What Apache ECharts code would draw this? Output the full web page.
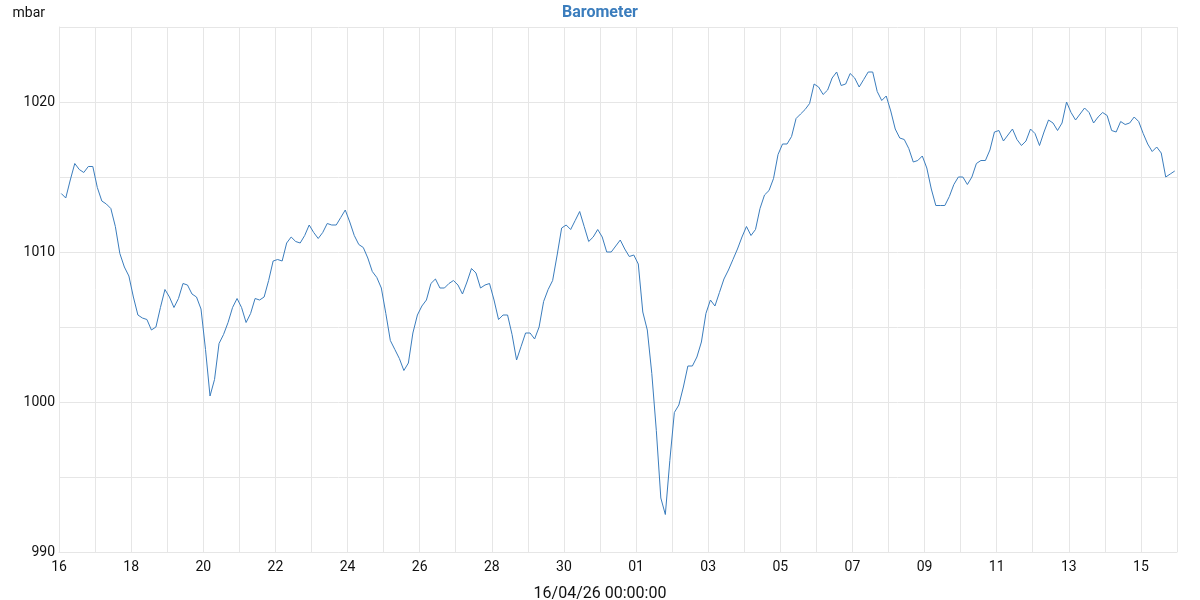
<!DOCTYPE html>
<html>
<head>
<meta charset="utf-8">
<script src="https://cdn.jsdelivr.net/npm/echarts@6/dist/echarts.min.js"></script>
<style>html,body{margin:0;padding:0;background:#fff}#c{width:1200px;height:600px}</style>
</head>
<body>
<div id="c"></div>
<script>
// Data: barometric pressure (mbar), 3-hourly samples from 16 Mar 2026 01:30 UTC
const chartTitle = 'Barometer';
const yUnit = 'mbar';
const xAxisName = '16/04/26 00:00:00';
const axisStart = Date.UTC(2026, 2, 16, 0, 0);
const axisEnd = Date.UTC(2026, 3, 16, 0, 0);
const firstSample = Date.UTC(2026, 2, 16, 1, 30);
const sampleStepHours = 3;
const yMin = 990, yMax = 1025, yStep = 5;
const yLabelStep = 10;
const pressure = [
1013.9,1013.6,1014.8,1015.9,1015.5,1015.3,1015.7,1015.7,1014.3,1013.4,
1013.2,1012.9,1011.7,1009.9,1009.0,1008.4,1007.0,1005.8,1005.6,1005.5,
1004.8,1005.0,1006.3,1007.5,1007.0,1006.3,1006.9,1007.9,1007.8,1007.2,
1007.0,1006.2,1003.5,1000.4,1001.5,1003.9,1004.5,1005.3,1006.3,1006.9,
1006.3,1005.3,1005.9,1006.9,1006.8,1007.0,1008.1,1009.4,1009.5,1009.4,
1010.6,1011.0,1010.7,1010.6,1011.1,1011.8,1011.3,1010.9,1011.3,1011.9,
1011.8,1011.8,1012.3,1012.8,1012.0,1011.1,1010.5,1010.3,1009.6,1008.7,
1008.3,1007.6,1005.9,1004.1,1003.5,1002.9,1002.1,1002.6,1004.6,1005.8,
1006.4,1006.8,1007.9,1008.2,1007.6,1007.6,1007.9,1008.1,1007.8,1007.2,
1008.0,1008.9,1008.6,1007.6,1007.8,1007.9,1006.8,1005.5,1005.8,1005.8,
1004.5,1002.8,1003.7,1004.6,1004.6,1004.2,1005.0,1006.7,1007.5,1008.1,
1009.8,1011.6,1011.8,1011.5,1012.1,1012.7,1011.7,1010.7,1011.0,1011.5,
1011.0,1010.0,1010.0,1010.4,1010.8,1010.2,1009.7,1009.8,1009.2,1006.0,
1004.8,1001.9,998.1,993.6,992.5,996.1,999.3,999.8,1001.0,1002.4,
1002.4,1003.0,1004.0,1005.9,1006.8,1006.4,1007.3,1008.2,1008.8,1009.5,
1010.2,1011.0,1011.7,1011.1,1011.5,1012.9,1013.8,1014.1,1014.9,1016.5,
1017.2,1017.2,1017.7,1018.9,1019.2,1019.5,1019.9,1021.2,1021.0,1020.5,
1020.8,1021.6,1022.0,1021.1,1021.2,1021.9,1021.6,1021.0,1021.5,1022.0,
1022.0,1020.7,1020.1,1020.4,1019.4,1018.2,1017.6,1017.5,1016.9,1016.0,
1016.1,1016.4,1015.6,1014.2,1013.1,1013.1,1013.1,1013.7,1014.5,1015.0,
1015.0,1014.5,1015.0,1015.9,1016.1,1016.1,1016.8,1018.0,1018.1,1017.4,
1017.8,1018.2,1017.5,1017.1,1017.4,1018.2,1017.9,1017.1,1018.0,1018.8,
1018.6,1018.1,1018.6,1020.0,1019.3,1018.8,1019.2,1019.6,1019.3,1018.6,
1019.0,1019.3,1019.1,1018.1,1018.0,1018.7,1018.5,1018.6,1019.0,1018.7,
1017.9,1017.2,1016.7,1017.0,1016.6,1015.0,1015.2,1015.4
];

const DAY = 86400000;
const seriesData = pressure.map((v, i) => [firstSample + i * sampleStepHours * 3600000, v]);

const chart = echarts.init(document.getElementById('c'), null, {renderer: 'canvas'});
const font = 'Roboto, "Noto Sans", sans-serif';
chart.setOption({
  animation: false,
  backgroundColor: '#ffffff',
  title: {
    text: chartTitle,
    left: 'center',
    top: 0,
    textStyle: {color: '#3b7dbd', fontSize: 16, fontWeight: 'bold', fontFamily: font}
  },
  grid: {left: 59, right: 23, top: 27, bottom: 48, containLabel: false, outerBoundsMode: 'none'},
  xAxis: {
    type: 'value',
    min: axisStart,
    max: axisEnd,
    interval: DAY,
    name: xAxisName,
    nameLocation: 'middle',
    nameGap: 34,
    nameTextStyle: {color: '#111', fontSize: 16, fontFamily: font, padding: [0, 36, 0, 0]},
    axisLine: {show: true, lineStyle: {color: '#e6e6e6'}},
    axisTick: {show: false},
    splitLine: {show: true, lineStyle: {color: '#e6e6e6', width: 1}},
    axisLabel: {
      color: '#111', fontSize: 14, fontFamily: font, margin: 8,
      showMinLabel: true, showMaxLabel: true,
      formatter: function (v) {
        const idx = Math.round((v - axisStart) / DAY);
        if (idx % 2 !== 0) return '';
        return String(new Date(v).getUTCDate()).padStart(2, '0');
      }
    }
  },
  yAxis: {
    type: 'value',
    min: yMin,
    max: yMax,
    interval: yStep,
    name: yUnit,
    nameLocation: 'end',
    nameGap: 7,
    nameTextStyle: {color: '#111', fontSize: 14, fontFamily: font, align: 'right', padding: [0, 14, 0, 0]},
    axisLine: {show: true, lineStyle: {color: '#e6e6e6'}},
    axisTick: {show: false},
    splitLine: {show: true, lineStyle: {color: '#e6e6e6', width: 1}},
    axisLabel: {
      color: '#111', fontSize: 14, fontFamily: font, margin: 4,
      formatter: function (v) { return (v % yLabelStep === 0) ? String(v) : ''; }
    }
  },
  series: [{
    type: 'line',
    data: seriesData,
    showSymbol: false,
    symbol: 'none',
    lineStyle: {color: '#3b7dbd', width: 1},
    itemStyle: {color: '#3b7dbd'}
  }]
});
</script>
</body>
</html>
